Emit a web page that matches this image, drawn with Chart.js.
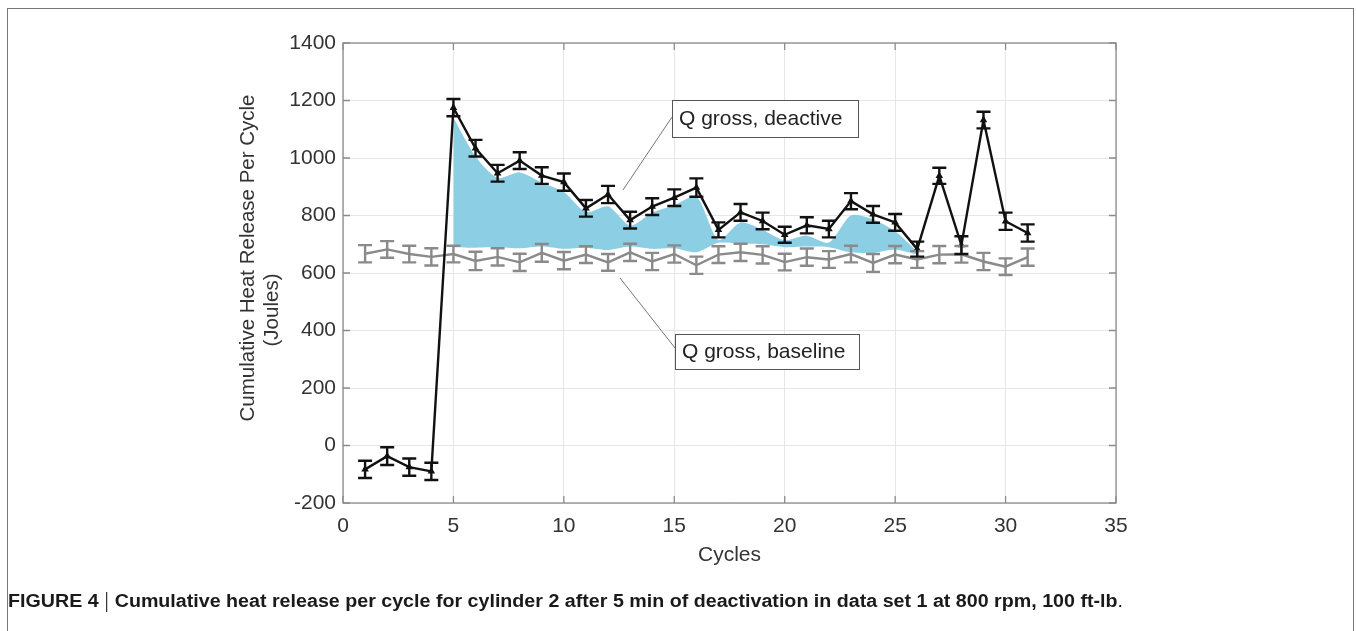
<!DOCTYPE html>
<html>
<head>
<meta charset="utf-8">
<script src="https://cdn.jsdelivr.net/npm/chart.js@4.4.1/dist/chart.umd.min.js"></script>
<style>
  html, body { margin: 0; padding: 0; background: #fff; }
  #wrap { width: 1356px; height: 631px; }
</style>
</head>
<body>
<div id="wrap"><canvas id="heatChart" width="1356" height="631"></canvas></div>
<script>
// data
const cycles = [1,2,3,4,5,6,7,8,9,10,11,12,13,14,15,16,17,18,19,20,21,22,23,24,25,26,27,28,29,30,31];
const deactive = [-83,-37,-75,-90,1175,1034,947,991,939,916,825,873,784,831,862,897,750,811,781,733,766,753,850,804,776,683,938,697,1132,780,739];
const deactiveErr = [30,31,30,30,30,29,29,29,29,30,29,30,29,29,29,32,26,29,29,28,28,29,28,29,29,26,28,31,29,30,30];
const baseline = [667,682,666,656,666,642,656,637,670,643,664,637,672,640,666,627,664,672,663,638,655,647,666,635,664,647,664,665,640,622,655];
const baselineErr = [30,29,29,30,29,32,30,30,31,30,29,29,30,30,30,30,29,30,30,29,30,29,29,31,30,29,30,29,30,29,30];

// light blue spread region between the two curves
const fillCycles = [5,6,7,8,9,10,11,12,13,14,15,16,17,18,19,20,21,22,23,24,25,26];
const fillUpper = [1140,1005,930,950,915,882,812,832,765,810,836,866,715,776,750,714,730,706,800,786,745,674];
const fillLower = [690,688,690,686,692,684,688,680,692,684,686,672,705,702,700,690,692,690,672,670,682,664];

const xTicks = [0,5,10,15,20,25,30,35];
const yTicks = [-200,0,200,400,600,800,1000,1200,1400];

const toXY = (xs, ys) => xs.map((x, i) => ({ x: x, y: ys[i] }));

const FONT = '"Liberation Sans", Arial, Helvetica, sans-serif';

// error bars, box, inner ticks, labels and caption
const figurePlugin = {
    id: 'figure',
    beforeDraw(chart) {
        const ctx = chart.ctx;
        ctx.save();
        ctx.fillStyle = '#fff';
        ctx.fillRect(0, 0, chart.width, chart.height);
        ctx.restore();
    },
    afterDatasetsDraw(chart) {
        const ctx = chart.ctx;
        const xs = chart.scales.x, ys = chart.scales.y;

        const bars = [
            { vals: baseline, errs: baselineErr, color: '#8a8a8a' },
            { vals: deactive, errs: deactiveErr, color: '#111111' }
        ];
        ctx.save();
        ctx.lineWidth = 2.4;
        bars.forEach(b => {
            ctx.strokeStyle = b.color;
            cycles.forEach((c, i) => {
                const px = xs.getPixelForValue(c);
                const top = ys.getPixelForValue(b.vals[i] + b.errs[i]);
                const bot = ys.getPixelForValue(b.vals[i] - b.errs[i]);
                ctx.beginPath();
                ctx.moveTo(px, top); ctx.lineTo(px, bot);
                ctx.moveTo(px - 7, top); ctx.lineTo(px + 7, top);
                ctx.moveTo(px - 7, bot); ctx.lineTo(px + 7, bot);
                ctx.stroke();
            });
        });
        ctx.restore();
    },
    afterDraw(chart) {
        const ctx = chart.ctx;
        const a = chart.chartArea;
        const xs = chart.scales.x, ys = chart.scales.y;

        ctx.save();
        // axes box
        ctx.strokeStyle = '#8c8c8c';
        ctx.lineWidth = 1.3;
        ctx.strokeRect(a.left, a.top, a.right - a.left, a.bottom - a.top);
        // inward ticks on all sides
        ctx.beginPath();
        xTicks.forEach(t => {
            const px = xs.getPixelForValue(t);
            ctx.moveTo(px, a.bottom); ctx.lineTo(px, a.bottom - 7);
            ctx.moveTo(px, a.top); ctx.lineTo(px, a.top + 7);
        });
        yTicks.forEach(t => {
            const py = ys.getPixelForValue(t);
            ctx.moveTo(a.left, py); ctx.lineTo(a.left + 7, py);
            ctx.moveTo(a.right, py); ctx.lineTo(a.right - 7, py);
        });
        ctx.stroke();

        // axis titles
        ctx.fillStyle = '#333';
        ctx.font = '21px ' + FONT;
        ctx.textAlign = 'center';
        ctx.textBaseline = 'middle';
        ctx.fillText('Cycles', (a.left + a.right) / 2, 555);

        ctx.save();
        ctx.translate(248, 0);
        ctx.rotate(-Math.PI / 2);
        ctx.font = '20.5px ' + FONT;
        ctx.fillText('Cumulative Heat Release Per Cycle', -258, 0);
        ctx.fillText('(Joules)', -310, 24);
        ctx.restore();

        // annotation boxes with leader lines
        const notes = [
            { text: 'Q gross, deactive', x: 672, y: 100, w: 186, h: 37, lx: 623, ly: 190, ay: 117 },
            { text: 'Q gross, baseline', x: 675, y: 334, w: 184, h: 35, lx: 620, ly: 278, ay: 348 }
        ];
        notes.forEach(n => {
            ctx.strokeStyle = '#777';
            ctx.lineWidth = 1;
            ctx.beginPath();
            ctx.moveTo(n.lx, n.ly); ctx.lineTo(n.x, n.ay);
            ctx.stroke();
            ctx.fillStyle = '#fff';
            ctx.fillRect(n.x, n.y, n.w, n.h);
            ctx.strokeStyle = '#555';
            ctx.strokeRect(n.x + 0.5, n.y + 0.5, n.w, n.h);
            ctx.fillStyle = '#222';
            ctx.font = '21px ' + FONT;
            ctx.textAlign = 'left';
            ctx.fillText(n.text, n.x + 7, n.y + n.h / 2 + 1);
        });

        // figure frame
        ctx.strokeStyle = '#777';
        ctx.lineWidth = 1;
        ctx.strokeRect(7.5, 8.5, 1346, 700);

        // caption
        const parts = [
            { t: 'FIGURE 4', f: 'bold 18px ' + FONT },
            { t: ' | ', f: '18px ' + FONT, bar: true },
            { t: 'Cumulative heat release per cycle for cylinder 2 after 5 min of deactivation in data set 1 at 800 rpm, 100 ft-lb', f: 'bold 18px ' + FONT },
            { t: '.', f: '18px ' + FONT }
        ];
        let total = 0;
        parts.forEach(p => { ctx.font = p.f; p.w = ctx.measureText(p.t).width; total += p.w; });
        const sx = (1123 - 8) / total;
        ctx.save();
        ctx.translate(8, 607);
        ctx.scale(sx, 1);
        ctx.textAlign = 'left';
        ctx.textBaseline = 'alphabetic';
        ctx.fillStyle = '#1a1a1a';
        let cx = 0;
        parts.forEach(p => {
            ctx.font = p.f;
            if (p.bar) {
                ctx.fillRect(cx + p.w / 2 - 0.5, -15, 1, 20);
            } else {
                ctx.fillText(p.t, cx, 0);
            }
            cx += p.w;
        });
        ctx.restore();
        ctx.restore();
    }
};

new Chart(document.getElementById('heatChart'), {
    type: 'line',
    data: {
        datasets: [
            {
                label: 'spread low',
                data: toXY(fillCycles, fillLower),
                borderWidth: 0,
                pointRadius: 0,
                fill: false,
                tension: 0.25,
                order: 4
            },
            {
                label: 'spread high',
                data: toXY(fillCycles, fillUpper),
                borderWidth: 0,
                pointRadius: 0,
                backgroundColor: 'rgb(140, 206, 228)',
                fill: '-1',
                tension: 0.25,
                order: 3
            },
            {
                label: 'Q gross, baseline',
                data: toXY(cycles, baseline),
                borderColor: '#8a8a8a',
                borderWidth: 2.4,
                pointRadius: 0,
                fill: false,
                order: 2
            },
            {
                label: 'Q gross, deactive',
                data: toXY(cycles, deactive),
                borderColor: '#111111',
                backgroundColor: '#111111',
                borderWidth: 2.4,
                pointStyle: 'triangle',
                pointRadius: 2,
                fill: false,
                order: 1
            }
        ]
    },
    options: {
        responsive: false,
        animation: false,
        events: [],
        layout: { padding: { left: 0, right: 240, top: 43, bottom: 0 } },
        plugins: {
            legend: { display: false },
            tooltip: { enabled: false }
        },
        scales: {
            x: {
                type: 'linear',
                min: 0,
                max: 35,
                afterFit: s => { s.height = 128; },
                afterBuildTicks: s => { s.ticks = xTicks.map(v => ({ value: v })); },
                grid: { color: '#e6e6e6', lineWidth: 1, drawTicks: false },
                border: { display: false },
                ticks: { color: '#333', font: { size: 21, family: FONT }, padding: 11, callback: v => String(v) }
            },
            y: {
                min: -200,
                max: 1400,
                afterFit: s => { s.width = 343; },
                afterBuildTicks: s => { s.ticks = yTicks.map(v => ({ value: v })); },
                grid: { color: '#e6e6e6', lineWidth: 1, drawTicks: false },
                border: { display: false },
                ticks: { color: '#333', font: { size: 21, family: FONT }, padding: 7, callback: v => String(v) }
            }
        }
    },
    plugins: [figurePlugin]
});
</script>
</body>
</html>
